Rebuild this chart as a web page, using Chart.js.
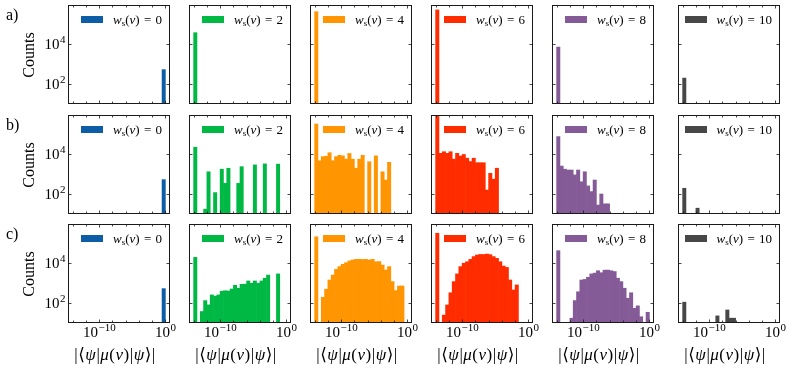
<!DOCTYPE html>
<html>
<head>
<meta charset="utf-8">
<script src="https://cdn.jsdelivr.net/npm/chart.js@4.4.0/dist/chart.umd.min.js"></script>
<style>
  html, body { margin: 0; padding: 0; background: #fff; }
  #fig { position: relative; width: 792px; height: 370px; overflow: hidden;
         font-family: "Liberation Serif", "DejaVu Serif", serif; color: #000; }
  #fig canvas { position: absolute; }
  .leg { position: absolute; font-size: 13px; line-height: 14px; white-space: nowrap; word-spacing: 1px; }
  .leg .patch { display: inline-block; width: 22px; height: 7px; margin-right: 10px; vertical-align: 1px; }
  .leg sub { font-size: 9px; vertical-align: -2px; line-height: 0; }
  .rowlab { position: absolute; left: 6px; font-size: 16px; line-height: 17px; }
  .ylab { position: absolute; font-size: 16px; line-height: 17px; white-space: nowrap;
          transform: translate(-50%, -50%) rotate(-90deg); }
  .xlab { position: absolute; font-size: 17px; line-height: 19px; white-space: nowrap;
          letter-spacing: 0.5px; transform: translateX(-50%); }
</style>
</head>
<body>
<div id="fig"></div>
<script>
// ---- bins (log10 of the bin edges) and axes ----
const binEdges = [-14, -13.5, -13, -12.5, -12, -11.5, -11, -10.5, -10, -9.5, -9, -8.5, -8, -7.5, -7,
                  -6.5, -6, -5.5, -5, -4.5, -4, -3.5, -3, -2.5, -2, -1.5, -1, -0.5, 0];
const weights = [0, 2, 4, 6, 8, 10];
const rowNames = ['a)', 'b)', 'c)'];
const colors = ['#0C5DA5', '#00B945', '#FF9500', '#FF2C00', '#845B97', '#474747'];
const xTickExps = [-14, -12, -10, -8, -6, -4, -2, 0];
const xLabelExps = [-10, 0];
const yTickExps = [2, 4];

// ---- counts per bin, row a) ----
const a_w0  = [0, 0, 0, 0, 0, 0, 0, 0, 0, 0, 0, 0, 0, 0, 0, 0, 0, 0, 0, 0, 0, 0, 0, 0, 0, 0, 0, 512];
const a_w2  = [39000, 0, 0, 0, 0, 0, 0, 0, 0, 0, 0, 0, 0, 0, 0, 0, 0, 0, 0, 0, 0, 0, 0, 0, 0, 0, 0, 0];
const a_w4  = [457000, 0, 0, 0, 0, 0, 0, 0, 0, 0, 0, 0, 0, 0, 0, 0, 0, 0, 0, 0, 0, 0, 0, 0, 0, 0, 0, 0];
const a_w6  = [562000, 0, 0, 0, 0, 0, 0, 0, 0, 0, 0, 0, 0, 0, 0, 0, 0, 0, 0, 0, 0, 0, 0, 0, 0, 0, 0, 0];
const a_w8  = [7200, 0, 0, 0, 0, 0, 0, 0, 0, 0, 0, 0, 0, 0, 0, 0, 0, 0, 0, 0, 0, 0, 0, 0, 0, 0, 0, 0];
const a_w10 = [190, 0, 0, 0, 0, 0, 0, 0, 0, 0, 0, 0, 0, 0, 0, 0, 0, 0, 0, 0, 0, 0, 0, 0, 0, 0, 0, 0];

// ---- row b) ----
const b_w0  = [0, 0, 0, 0, 0, 0, 0, 0, 0, 0, 0, 0, 0, 0, 0, 0, 0, 0, 0, 0, 0, 0, 0, 0, 0, 0, 0, 512];
const b_w2  = [22900, 0, 0, 16, 1290, 0, 112, 0, 1740, 331, 1950, 0, 0, 331, 2340, 0, 0, 0, 2880, 0,
               0, 3240, 0, 0, 0, 3160, 0, 0];
const b_w4  = [347000, 4680, 7590, 7940, 12000, 4680, 7590, 8910, 8320, 5620, 11000, 5620, 1950, 5620,
               8910, 0, 4170, 0, 8320, 0, 1290, 490, 3890, 0, 0, 0, 0, 0];
const b_w6  = [851000, 11200, 13500, 11200, 13500, 5620, 11200, 8130, 9770, 6310, 4270, 6310, 3720, 3720,
               3720, 151, 1070, 537, 1950, 0, 0, 0, 0, 0, 0, 0, 0, 0];
const b_w8  = [79400, 2510, 1740, 1580, 1580, 891, 1580, 398, 1290, 245, 126, 490, 26, 95, 30, 30,
               0, 0, 0, 0, 0, 0, 0, 0, 0, 0, 0, 0];
const b_w10 = [186, 0, 0, 0, 18, 0, 0, 0, 0, 0, 0, 0, 0, 0, 0, 0, 0, 0, 0, 0, 0, 0, 0, 0, 0, 0, 0, 0];

// ---- row c) ----
const c_w0  = [0, 0, 0, 0, 0, 0, 0, 0, 0, 0, 0, 0, 0, 0, 0, 0, 0, 0, 0, 0, 0, 0, 0, 0, 0, 0, 0, 512];
const c_w2  = [20000, 0, 35, 126, 76, 245, 214, 245, 380, 400, 390, 490, 759, 537, 851, 860, 1260, 955,
               1260, 955, 1260, 1740, 2510, 0, 0, 2880, 0, 0];
const c_w4  = [224000, 0, 186, 479, 1410, 2510, 4900, 6760, 8910, 10700, 13200, 14800, 15800, 16000,
               15600, 15800, 14800, 15800, 12000, 12200, 8130, 4570, 6760, 1170, 407, 692, 700, 0];
const c_w6  = [339000, 0, 23, 76, 316, 1170, 2880, 6760, 10000, 12000, 15800, 21900, 26300, 28200, 28000,
               29500, 27500, 21900, 17800, 12000, 7240, 6170, 1410, 437, 794, 0, 0, 0];
const c_w8  = [43700, 0, 0, 0, 16, 126, 355, 1410, 1510, 1950, 2880, 3160, 4170, 3310, 4470, 4500, 4170,
               3800, 1740, 1170, 537, 166, 316, 51, 68, 19, 0, 32];
const c_w10 = [105, 0, 0, 0, 0, 0, 0, 0, 0, 0, 21, 0, 0, 42, 16, 16, 0, 0, 0, 0, 0, 0, 0, 0, 0, 0, 0, 0];

const rows = [
    [a_w0, a_w2, a_w4, a_w6, a_w8, a_w10],
    [b_w0, b_w2, b_w4, b_w6, b_w8, b_w10],
    [c_w0, c_w2, c_w4, c_w6, c_w8, c_w10]
];

// ---- layout ----
const FIG_W = 792;
const panelLeft = [68, 189, 310, 431, 552, 678];
const panelTop = [5, 115, 224];
const PW = 102, PH = 99;
const pad = { left: 50, top: 8, right: 14, bottom: 26 };
const FONT = '"Liberation Serif", "DejaVu Serif", serif';

const fig = document.getElementById('fig');

// 10^n label with a raised exponent
function drawPow(ctx, exp, x, y, align) {
    const base = '10';
    const sup = String(exp).replace('-', '\u2212');
    ctx.font = '15px ' + FONT;
    const wb = ctx.measureText(base).width;
    ctx.font = '11px ' + FONT;
    const ws = ctx.measureText(sup).width;
    const x0 = align === 'center' ? x - (wb + ws) / 2 : x - wb - ws;
    ctx.textAlign = 'left';
    ctx.textBaseline = 'alphabetic';
    ctx.fillStyle = '#000';
    ctx.font = '15px ' + FONT;
    ctx.fillText(base, x0, y);
    ctx.font = '11px ' + FONT;
    ctx.fillText(sup, x0 + wb + 0.5, y - 6);
}

// frame, inward ticks on all sides, tick labels
const framePlugin = {
    id: 'frame',
    afterDatasetsDraw(chart, args, opts) {
        const { ctx, chartArea: a, scales: { x, y } } = chart;
        ctx.save();
        ctx.strokeStyle = '#1a1a1a';
        ctx.lineWidth = 0.8;
        const line = (x1, y1, x2, y2) => { ctx.beginPath(); ctx.moveTo(x1, y1); ctx.lineTo(x2, y2); ctx.stroke(); };

        xTickExps.forEach(e => {
            const px = Math.round(x.getPixelForValue(10 ** e)) + 0.5;
            const len = xLabelExps.includes(e) ? 3.5 : 2.5;
            line(px, a.bottom, px, a.bottom - len);
            line(px, a.top, px, a.top + len);
        });
        yTickExps.forEach(e => {
            const py = Math.round(y.getPixelForValue(10 ** e)) + 0.5;
            line(a.left, py, a.left + 3.5, py);
            line(a.right, py, a.right - 3.5, py);
        });

        ctx.lineWidth = 1;
        ctx.strokeRect(a.left + 0.5, a.top + 0.5, a.width - 1, a.height - 1);

        if (opts.showX) {
            xLabelExps.forEach(e => drawPow(ctx, e, x.getPixelForValue(10 ** e), a.bottom + 14, 'center'));
        }
        if (opts.showY) {
            yTickExps.forEach(e => drawPow(ctx, e, a.left - 3, y.getPixelForValue(10 ** e) + 5, 'right'));
        }
        ctx.restore();
    }
};

rows.forEach((row, r) => {
    row.forEach((counts, c) => {
        const cv = document.createElement('canvas');
        cv.width = PW + pad.left + pad.right;
        cv.height = PH + pad.top + pad.bottom;
        cv.style.left = (panelLeft[c] - pad.left) + 'px';
        cv.style.top = (panelTop[r] - pad.top) + 'px';
        fig.appendChild(cv);

        new Chart(cv, {
            type: 'bar',
            data: {
                datasets: [{
                    data: counts.map((n, i) => ({
                        x: 10 ** ((binEdges[i] + binEdges[i + 1]) / 2),
                        y: n > 0 ? n : null
                    })),
                    backgroundColor: colors[c],
                    borderWidth: 0,
                    barPercentage: 1,
                    categoryPercentage: 1
                }]
            },
            options: {
                responsive: false,
                animation: false,
                devicePixelRatio: 1,
                layout: { padding: pad },
                plugins: {
                    legend: { display: false },
                    tooltip: { enabled: false },
                    frame: { showX: r === 2, showY: c === 0 }
                },
                scales: {
                    x: {
                        type: 'logarithmic', display: false, offset: false,
                        min: 10 ** -14.7, max: 10 ** 0.7,
                        afterBuildTicks: s => { s.ticks = xTickExps.map(e => ({ value: 10 ** e })); }
                    },
                    y: { type: 'logarithmic', display: false, min: 10 ** 0.96, max: 1e6 }
                }
            },
            plugins: [framePlugin]
        });

        // legend in the upper right of each panel
        const leg = document.createElement('div');
        leg.className = 'leg';
        leg.style.right = (FIG_W - panelLeft[c] - PW + 8) + 'px';
        leg.style.top = (panelTop[r] + 8) + 'px';
        leg.innerHTML = '<span class="patch" style="background:' + colors[c] + '"></span>' +
            '<i>w</i><sub>s</sub>(<i>v</i>) = ' + weights[c];
        fig.appendChild(leg);
    });

    const lab = document.createElement('div');
    lab.className = 'rowlab';
    lab.style.top = (panelTop[r] + 1) + 'px';
    lab.textContent = rowNames[r];
    fig.appendChild(lab);

    const yl = document.createElement('div');
    yl.className = 'ylab';
    yl.style.left = '28px';
    yl.style.top = (panelTop[r] + PH / 2) + 'px';
    yl.textContent = 'Counts';
    fig.appendChild(yl);
});

panelLeft.forEach(left => {
    const xl = document.createElement('div');
    xl.className = 'xlab';
    xl.style.left = (left + PW / 2 - 4) + 'px';
    xl.style.top = '345px';
    xl.innerHTML = '|\u27E8<i>\u03C8</i>|<i>\u03BC</i>(<i>v</i>)|<i>\u03C8</i>\u27E9|';
    fig.appendChild(xl);
});
</script>
</body>
</html>
